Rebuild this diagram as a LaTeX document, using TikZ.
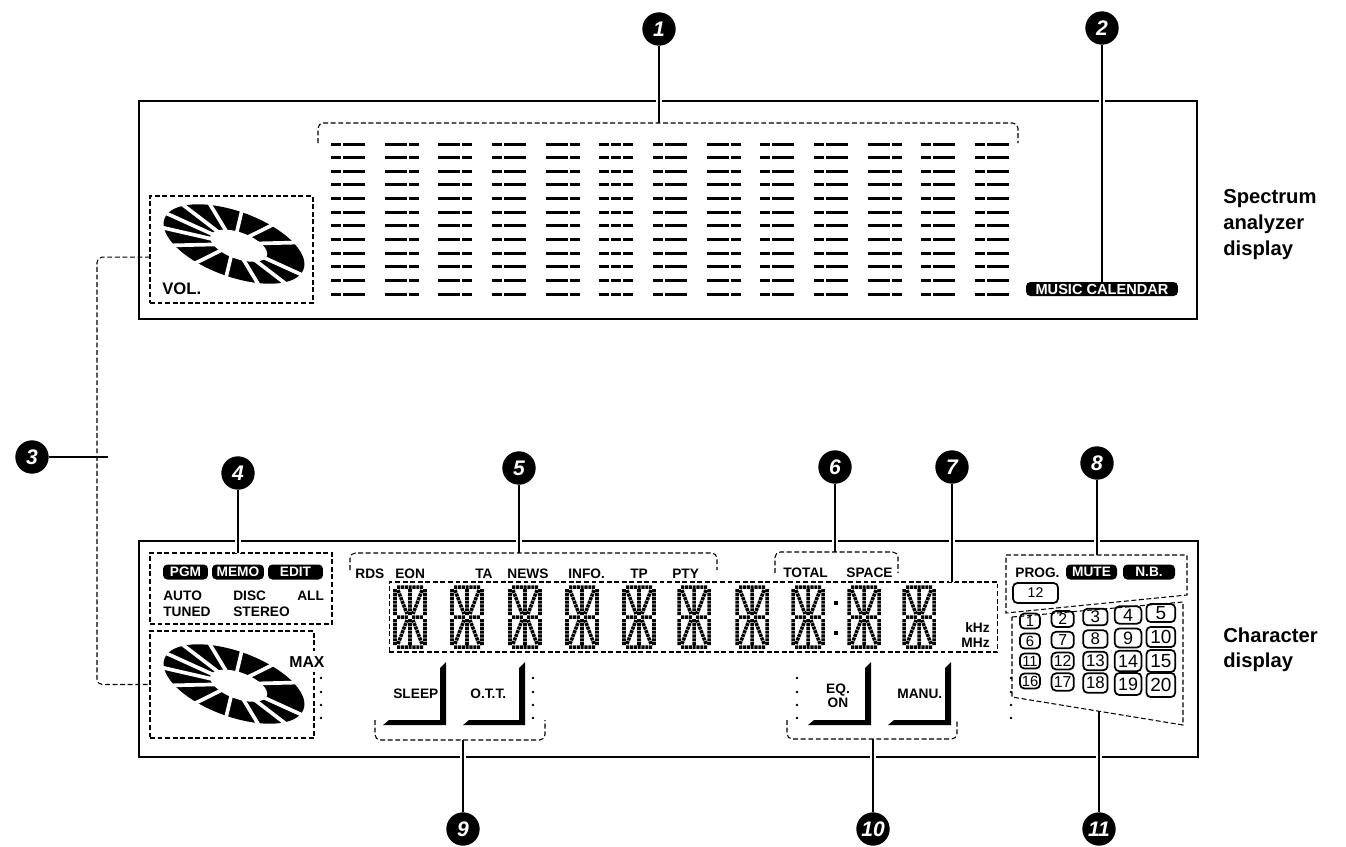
\documentclass[tikz,border=0pt]{standalone}
\usepackage{fontspec}
\setmainfont{Liberation Sans}

\begin{document}
\begin{tikzpicture}[x=0.02cm,y=-0.02cm,
  panel/.style={line width=1.2pt},
  grp/.style={line width=0.6pt,dash pattern=on 2.8pt off 1.5pt},
  grpbox/.style={grp,draw,inner sep=0pt,outer sep=0pt},
  lead/.style={line width=0.9pt,preaction={draw,white,line width=3.6pt}},
  num/.style={circle,fill=black,text=white,inner sep=0pt,minimum size=19pt,font=\fontsize{12}{12}\selectfont\bfseries\itshape},
  lbl/.style={anchor=base west,inner sep=0pt,font=\fontsize{7.8}{8}\selectfont\bfseries},
  badge/.style={fill=black,text=white,rounded corners=2.5pt,inner sep=0pt,minimum height=0.3cm,font=\fontsize{7.8}{8}\selectfont\bfseries},
  key/.style={draw,line width=1pt,rounded corners=2.5pt,inner sep=0pt},
  bar/.style={line width=1.7pt},
  seg/.style={line width=2pt,dash pattern=on 1.75pt off 0.45pt},
  side/.style={anchor=north west,inner sep=0pt,align=left,font=\fontsize{11.5}{14.7}\selectfont\bfseries}]
  \useasboundingbox (0,0) rectangle (1346,846);

  % the two panels
  \draw[panel] (139,101) rectangle (1197,319);
  \draw[panel] (139,541) rectangle (1198,757);

  % spectrum analyzer bars
  \foreach \p [count=\k from 0] in {0,1,1,0,1,2,0,1,0,0,1,0,0}
    \foreach \r in {0,...,11} {
      \pgfmathsetmacro\bx{331+53.67*\k}
      \pgfmathsetmacro\by{144+13.64*\r}
      \ifcase\p\relax
        \draw[bar] (\bx,\by) -- ++(10,0) ++(2,0) -- ++(22,0);
      \or
        \draw[bar] (\bx,\by) -- ++(22,0) ++(2,0) -- ++(10,0);
      \or
        \draw[bar] (\bx,\by) -- ++(10,0) ++(2,0) -- ++(10,0) ++(2,0) -- ++(10,0);
      \fi
    }
  \node[badge,minimum width=3.04cm,minimum height=0.28cm,font=\fontsize{8.3}{8.3}\selectfont\bfseries] (mc) at (1102,289) {MUSIC CALENDAR};

  % volume discs
  \foreach \dy in {244,684} {
    \begin{scope}[shift={(234,\dy)},rotate=-20,yscale=0.44]
      \fill (0,0) circle (74);
      \fill[white] (5,0) circle (30);
      \foreach \a in {10,35.7,...,340}
        \draw[white,line width=2.1pt] (0,0) -- (\a:80);
    \end{scope}
  }
  \node[grpbox,minimum width=3.26cm,minimum height=2.14cm] (vtop) at (231.5,249.5) {};
  \node[grpbox,minimum width=3.28cm,minimum height=2.14cm] (vbot) at (232,684.5) {};
  \node[lbl,font=\fontsize{9.5}{9.5}\selectfont\bfseries] (vol) at (162,294) {VOL.};
  \node[lbl,font=\fontsize{9}{9}\selectfont\bfseries,fill=white,inner ysep=3pt] (max) at (289,667) {MAX};

  % level dots
  \foreach \yy in {678,692,705,718} {
    \fill (321,\yy) circle (1.3);
    \fill (533,\yy) circle (1.3);
    \fill (797,\yy) circle (1.3);
    \fill (1011,\yy) circle (1.3);
  }

  % mode indicators
  \node[grpbox,minimum width=3.64cm,minimum height=1.42cm] (g4) at (241,588.5) {};
  \node[badge,minimum width=0.9cm] (pgm) at (185.5,572) {PGM};
  \node[badge,minimum width=1.04cm] (memo) at (238,572) {MEMO};
  \node[badge,minimum width=1.1cm] (edit) at (295.5,572) {EDIT};
  \node[lbl] (auto) at (163,600) {AUTO};
  \node[lbl] (disc) at (233,600) {DISC};
  \node[lbl] (all) at (297,600) {ALL};
  \node[lbl] (tuned) at (163,616) {TUNED};
  \node[lbl] (stereo) at (233,616) {STEREO};

  % RDS indicators
  \node[lbl] (rds) at (355,578) {RDS};
  \node[lbl] (eon) at (395,578) {EON};
  \node[lbl] (ta) at (475,578) {TA};
  \node[lbl] (news) at (507,578) {NEWS};
  \node[lbl] (info) at (568,578) {INFO.};
  \node[lbl] (tp) at (630,578) {TP};
  \node[lbl] (pty) at (672,578) {PTY};
  \node[lbl] (total) at (783,577) {TOTAL};
  \node[lbl] (space) at (846,577) {SPACE};

  % character display
  \node[grpbox,minimum width=12.18cm,minimum height=1.4cm] (g7) at (693.5,617) {};
  \foreach \cx in {393,450,508,565,622,677,735,791,847,902}
    \draw[seg] (\cx+4,587) -- (\cx+30,587) (\cx+4,647) -- (\cx+30,647)
      (\cx+2,589) -- (\cx+2,615) (\cx+2,619) -- (\cx+2,645)
      (\cx+32,589) -- (\cx+32,615) (\cx+32,619) -- (\cx+32,645)
      (\cx+17,589) -- (\cx+17,615) (\cx+17,619) -- (\cx+17,645)
      (\cx+4,617) -- (\cx+15,617) (\cx+19,617) -- (\cx+30,617)
      (\cx+5,590) -- (\cx+14,614) (\cx+29,590) -- (\cx+20,614)
      (\cx+5,644) -- (\cx+14,620) (\cx+29,644) -- (\cx+20,620);
  \fill (834,601) rectangle ++(4,4);
  \fill (834,631) rectangle ++(4,4);
  \node[lbl,anchor=base east] (khz) at (990,632) {kHz};
  \node[lbl,anchor=base east] (mhz) at (990,647) {MHz};

  % buttons
  \foreach \xr/\xl in {446/383,525/463,871/808,951/888}
    \fill (\xr-6,668) -- (\xr,662) -- (\xr,725) -- (\xl,725) -- (\xl+6,720) -- (\xr-6,720) -- cycle;
  \node[lbl] (sleep) at (393,698) {SLEEP};
  \node[lbl] (ott) at (470,698) {O.T.T.};
  \node[lbl,anchor=base] (eq) at (838,693) {EQ.};
  \node[lbl,anchor=base] (on) at (838,707) {ON};
  \node[lbl] (manu) at (897,698) {MANU.};

  % tuner/programme area
  \node[lbl] (prog) at (1015,577) {PROG.};
  \node[badge,minimum width=1.02cm] (mute) at (1091.5,572) {MUTE};
  \node[badge,minimum width=1.04cm] (nb) at (1149,572) {N.B.};
  \node[key,minimum width=0.9cm,minimum height=0.4cm,font=\fontsize{8}{8}\selectfont] (p12) at (1035.5,593) {12};
  \foreach \c in {0,...,4}
    \foreach \r in {0,...,3} {
      \pgfmathtruncatemacro\kn{5*\r+\c+1}
      \pgfmathsetmacro\kx{1030+32.7*\c}
      \pgfmathsetmacro\ky{621-2*\c+\r*(20+\c)}
      \pgfmathsetmacro\kw{(20+2.2*\c)*0.02}
      \pgfmathsetmacro\kh{(15+\c*(0.8+0.5*\r))*0.02}
      \pgfmathsetmacro\kf{8.4+0.6*\c}
      \node[key,minimum width=\kw cm,minimum height=\kh cm,font=\fontsize{\kf}{\kf}\selectfont] (k\kn) at (\kx,\ky) {\kn};
    }

  % side labels
  \node[side] (sa) at (1223,189) {Spectrum\\analyzer\\display};
  \node[side] (cd) at (1223,627) {Character\\display};

  % callouts
  \node[num] (n1) at (659,29) {1};
  \node[num] (n2) at (1102,28) {2};
  \node[num] (n3) at (32,457) {3};
  \node[num] (n4) at (238,473) {4};
  \node[num] (n5) at (519,468) {5};
  \node[num] (n6) at (835,467) {6};
  \node[num] (n7) at (952,467) {7};
  \node[num] (n8) at (1097,463) {8};
  \node[num] (n9) at (463,829) {9};
  \node[num] (n10) at (873,829) {10};
  \node[num] (n11) at (1099,829) {11};

  \coordinate (b1) at (659,123);
  \coordinate (c3) at (108,457);
  \coordinate (b5) at (519,553);
  \coordinate (b6) at (835,552);
  \coordinate (b8) at (1097,555);
  \coordinate (b9) at (463,740);
  \coordinate (b10) at (873,739);
  \coordinate (b11) at (1099,711);

  \draw[lead] (n1) -- (b1);
  \draw[lead] (n2) -- (mc.north);
  \draw[lead] (n3) -- (c3);
  \draw[lead] (n4) -- (n4 |- g4.north);
  \draw[lead] (n5) -- (b5);
  \draw[lead] (n6) -- (b6);
  \draw[lead] (n7) -- (n7 |- g7.north);
  \draw[lead] (n8) -- (b8);
  \draw[lead] (n9) -- (b9);
  \draw[lead] (n10) -- (b10);
  \draw[lead] (n11) -- (b11);

  % dashed groupings
  \draw[grp,rounded corners=3pt] (318,143) -- (318,123) -- (1018,123) -- (1018,143);
  \draw[grp,rounded corners=3pt] ([yshift=-4.3pt]vtop.west) -- ++(-53,0) |- (vbot.west);
  \draw[grp,rounded corners=3pt] (350,570) -- (350,553) -- (717,553) -- (717,570);
  \draw[grp,rounded corners=3pt] (775,573) -- (775,552) -- (898,552) -- (898,573);
  \draw[grp,rounded corners=3pt] (375,720) -- (375,740) -- (545,740) -- (545,720);
  \draw[grp,rounded corners=3pt] (787,720) -- (787,739) -- (957,739) -- (957,720);
  \draw[grp] (1006,555) -- (1187,555) -- (1187,595) -- (1006,613) -- cycle;
  \draw[grp] (1012,617) -- (1183,602) -- (1183,725) -- (1012,697) -- cycle;
\end{tikzpicture}
\end{document}
